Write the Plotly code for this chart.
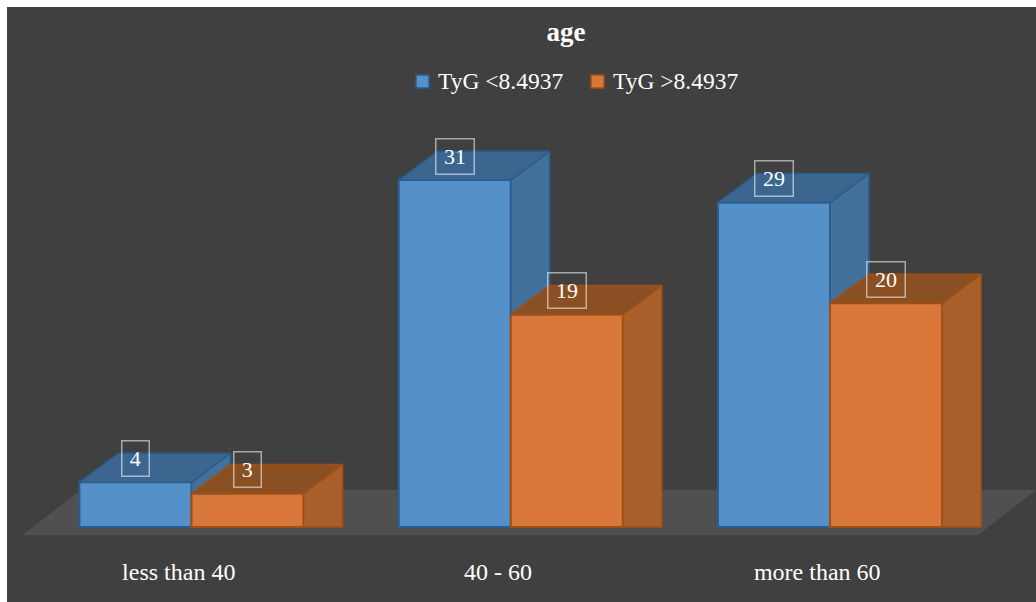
import plotly.graph_objects as go

categories = ["less than 40", "40 - 60", "more than 60"]
low_tyg = [4, 31, 29]
high_tyg = [3, 19, 20]
series_names = ["TyG <8.4937", "TyG >8.4937"]

FONT = "Liberation Serif"
BG = "#404040"
BLUE_FRONT, BLUE_EDGE = "#5590c8", "#285d8f"
ORANGE_FRONT, ORANGE_EDGE = "#d9773a", "#a04f14"
BAR_W = 0.351
DEPTH_X = 0.1222
DEPTH_Y = 2.59
PLOT_H = 545

positions = list(range(len(categories)))


def box_faces(left, right, values, floors):
    """Outlines of the side and top faces of each box, in axis units."""
    side_x, side_y, top_x, top_y = [], [], [], []
    for p, v, f in zip(positions, values, floors):
        x0, x1 = p + left, p + right
        side_x += [x1, x1 + DEPTH_X, x1 + DEPTH_X, x1, x1, None]
        side_y += [v, v + DEPTH_Y, f, f, v, None]
        top_x += [x0, x0 + DEPTH_X, x1 + DEPTH_X, x1, x0, None]
        top_y += [v, v + DEPTH_Y, v + DEPTH_Y, v, v, None]
    return side_x, side_y, top_x, top_y


def add_series(fig, name, values, offset, front, side, top, edge, floors):
    fig.add_trace(go.Bar(
        name=name, x=positions, y=values, width=BAR_W, offset=offset,
        marker=dict(color=front, line=dict(color=edge, width=2)),
        showlegend=False,
    ))
    sx, sy, tx, ty = box_faces(offset, offset + BAR_W, values, floors)
    for xs, ys, colour in ((sx, sy, side), (tx, ty, top)):
        fig.add_trace(go.Scatter(
            x=xs, y=ys, mode="lines", fill="toself", fillcolor=colour,
            line=dict(color=edge, width=1.5), showlegend=False, hoverinfo="skip",
        ))


fig = go.Figure()
# The blue side wall only shows above the orange box standing in front of it.
add_series(fig, series_names[0], low_tyg, -BAR_W, BLUE_FRONT, "#436f9b", "#3c6690", BLUE_EDGE, high_tyg)
add_series(fig, series_names[1], high_tyg, 0, ORANGE_FRONT, "#a85f2a", "#8a4f23", ORANGE_EDGE, [0, 0, 0])

annotations = []
for offset, values in ((-BAR_W / 2, low_tyg), (BAR_W / 2, high_tyg)):
    for p, v in zip(positions, values):
        annotations.append(dict(
            x=p + offset, y=v, yshift=24, text=str(v), showarrow=False,
            width=11.5 * len(str(v)) + 12, height=32,
            font=dict(family=FONT, size=22, color="#ffffff"),
            bordercolor="rgba(255,255,255,0.55)", borderwidth=1.5, borderpad=1,
        ))

# Legend row: a swatch and a label per series
legend_shapes = []
for name, swatch_left, text_left, fill, edge in (
    (series_names[0], 416, 436, BLUE_FRONT, BLUE_EDGE),
    (series_names[1], 591, 611, ORANGE_FRONT, ORANGE_EDGE),
):
    legend_shapes.append(dict(
        type="rect", xref="paper", yref="paper", layer="above",
        x0=swatch_left / 1036, x1=(swatch_left + 13) / 1036,
        y0=1 - 88 / PLOT_H, y1=1 - 75 / PLOT_H,
        fillcolor=fill, line=dict(color=edge, width=1.5),
    ))
    annotations.append(dict(
        xref="paper", yref="paper", x=text_left / 1036, y=1 - 81 / PLOT_H,
        xanchor="left", yanchor="middle", text=name, showarrow=False,
        font=dict(family=FONT, size=23.5, color="#ffffff"),
    ))

fig.update_layout(
    width=1036, height=602, margin=dict(l=0, r=0, t=0, b=602 - PLOT_H),
    paper_bgcolor=BG, plot_bgcolor=BG, barmode="overlay", showlegend=False,
    font=dict(family=FONT, color="#ffffff"),
    title=dict(text="<b>age</b>", x=566 / 1036, xanchor="center", y=1 - 32 / 602, yanchor="middle",
               font=dict(family=FONT, size=27, color="#ffffff")),
    xaxis=dict(range=[-191.5 / 319.25, (1036 - 191.5) / 319.25],
               tickvals=[p - 0.04 for p in positions], ticktext=categories,
               showgrid=False, zeroline=False, showline=False, ticks="outside", ticklen=5,
               tickcolor="rgba(0,0,0,0)", tickfont=dict(family=FONT, size=24, color="#ffffff"), fixedrange=True),
    yaxis=dict(range=[-18 / 11.19, 527 / 11.19], visible=False, fixedrange=True),
    annotations=annotations,
    shapes=[
        # Floor plane under the boxes
        dict(type="path", xref="x", yref="y", layer="below", line=dict(width=0), fillcolor="#505050",
             path="M-0.529,-0.715 L2.4636,-0.715 L2.6453,3.31 L-0.3473,3.31 Z"),
        # White edges along the top and left of the canvas
        dict(type="rect", xref="paper", yref="paper", x0=0, x1=1, y0=1 - 7 / PLOT_H, y1=1,
             fillcolor="#ffffff", line=dict(width=0), layer="above"),
        dict(type="rect", xref="paper", yref="paper", x0=0, x1=7 / 1036, y0=-57 / PLOT_H, y1=1,
             fillcolor="#ffffff", line=dict(width=0), layer="above"),
    ] + legend_shapes,
)

fig.write_html("out.html", config=dict(displayModeBar=False))
